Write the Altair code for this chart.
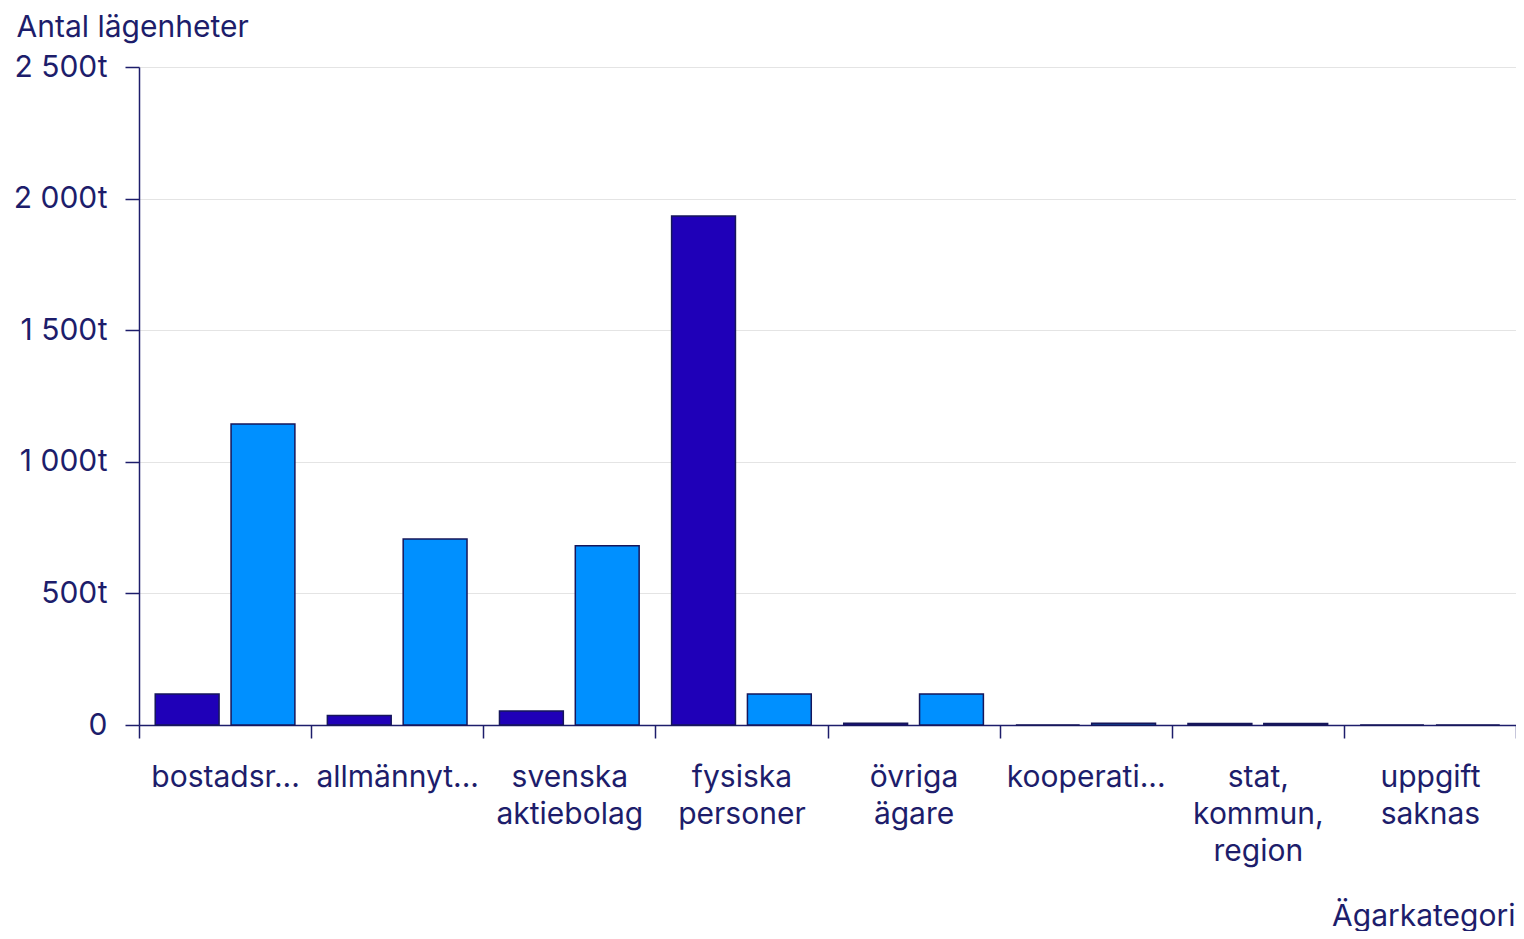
import altair as alt
import pandas as pd

categories = ["bostadsr...", "allmännyt...", "svenska aktiebolag", "fysiska personer",
              "övriga ägare", "kooperati...", "stat, kommun, region", "uppgift saknas"]
series = ["småhus", "flerbostadshus"]
smahus = [118, 36, 53, 1934, 7, 0, 6, 0]
flerbostadshus = [1144, 707, 681, 118, 118, 7, 6, 0]
colors = ["#1f00b8", "#0090ff"]

rows = []
for c, a, b in zip(categories, smahus, flerbostadshus):
    rows.append({"kategori": c, "serie": series[0], "antal": a})
    rows.append({"kategori": c, "serie": series[1], "antal": b})
df = pd.DataFrame(rows)

NAVY = "#1d1d6b"
FONT = "Inter"
FS = 30
W = 1377

chart = alt.Chart(df).mark_bar(stroke="#16165a", strokeWidth=1.5).encode(
    x=alt.X("kategori:N", sort=categories,
            scale=alt.Scale(paddingInner=0, paddingOuter=0),
            axis=alt.Axis(title="Ägarkategori", labelAngle=0, labelAlign="center",
                          labelBaseline="top", labelExpr="split(datum.label, ' ')",
                          labelFontSize=FS, labelLineHeight=37, labelPadding=24,
                          labelColor=NAVY, labelFont=FONT, labelLimit=300,
                          tickBand="extent", tickSize=13, tickColor=NAVY, tickWidth=1.5,
                          domainColor=NAVY, domainWidth=1.5,
                          titleFont=FONT, titleFontSize=FS, titleFontWeight="normal",
                          titleColor=NAVY, titleAlign="right", titleAnchor="end",
                          titleX=W - 1, titleY=200, titleBaseline="alphabetic")),
    xOffset=alt.XOffset("serie:N", sort=series,
                        scale=alt.Scale(paddingInner=0.158, paddingOuter=0.214)),
    y=alt.Y("antal:Q", scale=alt.Scale(domain=[0, 2500], nice=False),
            axis=alt.Axis(title="Antal lägenheter", values=[0, 500, 1000, 1500, 2000, 2500],
                          labelExpr="datum.value == 0 ? '0' : replace(format(datum.value, ','), ',', ' ') + 't'",
                          labelFontSize=FS, labelColor=NAVY, labelFont=FONT, labelPadding=18,
                          tickSize=14, tickColor=NAVY, tickWidth=1.5,
                          domainColor=NAVY, domainWidth=1.5,
                          grid=True, gridColor="#e4e4e4", gridWidth=1.2,
                          titleAngle=0, titleFont=FONT, titleFontSize=FS, titleFontWeight="normal",
                          titleColor=NAVY, titleAlign="left", titleBaseline="alphabetic",
                          titleX=-123, titleY=-31)),
    color=alt.Color("serie:N", sort=series, scale=alt.Scale(domain=series, range=colors), legend=None),
).properties(
    width=W, height=658,
    autosize=alt.AutoSizeParams(type="none"),
    padding={"left": 131, "top": 59, "right": 0, "bottom": 206},
).configure_view(stroke=None)

chart.save("out.html", embed_options={"renderer": "svg", "actions": False})
